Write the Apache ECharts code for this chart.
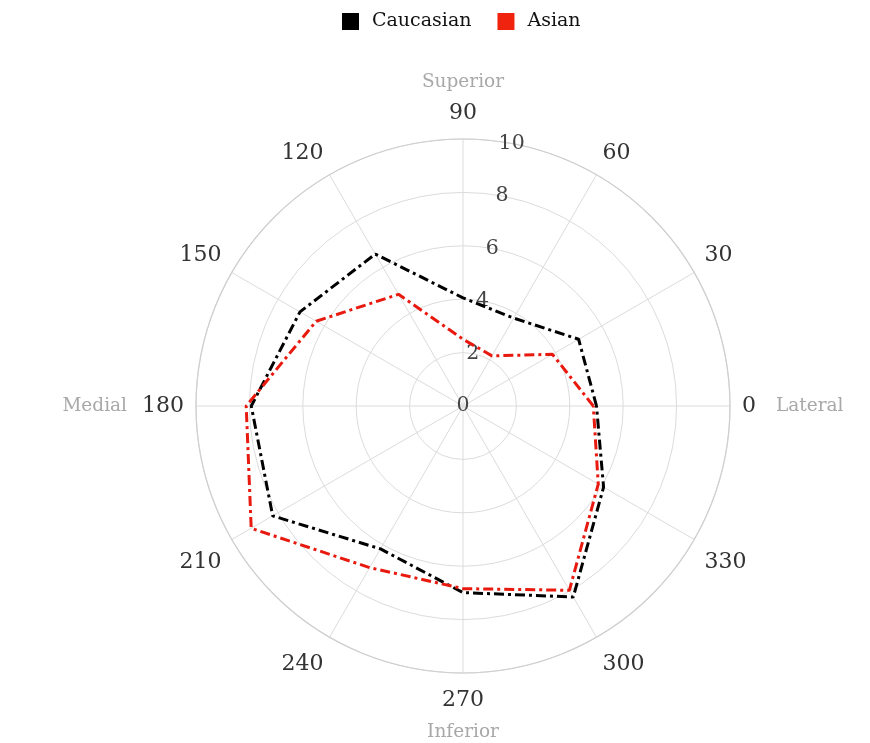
<!DOCTYPE html>
<html>
<head>
<meta charset="utf-8">
<script src="https://cdn.jsdelivr.net/npm/echarts@6/dist/echarts.min.js"></script>
<style>html,body{margin:0;padding:0;background:#fff}#c{width:870px;height:743px}</style>
</head>
<body>
<div id="c"></div>
<script>
// Data
const angles = [0, 30, 60, 90, 120, 150, 180, 210, 240, 270, 300, 330];
const caucasian = [5.0, 5.0, 3.8, 4.05, 6.57, 7.05, 7.93, 8.23, 6.18, 6.99, 8.26, 6.08];
const asian = [4.88, 3.87, 2.17, 2.5, 4.83, 6.35, 8.12, 9.16, 6.99, 6.84, 7.97, 5.85];
const radiusTicks = [0, 2, 4, 6, 8, 10];
const directionNames = { 0: 'Lateral', 90: 'Superior', 180: 'Medial', 270: 'Inferior' };
const seriesNames = ['Caucasian', 'Asian'];

const FONT = 'DejaVu Serif';
const CENTER = [463, 406];
const RADIUS = 267;

function closedLoop(vals) {
  const d = angles.map((a, i) => [vals[i], a]);
  d.push([vals[0], 360]);
  return d;
}

function angleLabel(v) {
  const a = Math.round(v) % 360;
  const dir = directionNames[a];
  if (!dir) return a > 180 ? '{nl|' + a + '}' : String(a);
  if (a === 90) return '{dt|' + dir + '}\n{nt|' + a + '}';
  if (a === 270) return '{nb|' + a + '}\n{db|' + dir + '}';
  if (a === 0) return '{n|' + a + '}{dl|' + dir + '}';
  return '{dr|' + dir + '}{n|' + a + '}';
}

const chart = echarts.init(document.getElementById('c'), null, { renderer: 'canvas' });
chart.setOption({
  backgroundColor: '#fff',
  animation: false,
  legend: {
    top: 7,
    left: 337,
    icon: 'rect',
    itemWidth: 17,
    itemHeight: 17,
    itemGap: 26,
    data: seriesNames,
    textStyle: { fontFamily: FONT, fontSize: 19, color: '#111', padding: [0, 0, 0, 8] }
  },
  polar: [
    { center: CENTER, radius: RADIUS },
    { center: CENTER, radius: RADIUS }
  ],
  angleAxis: [
    {
      polarIndex: 0,
      type: 'value',
      min: 0,
      max: 360,
      interval: 30,
      startAngle: 0,
      clockwise: false,
      axisLine: { show: true, lineStyle: { color: '#cfcfcf', width: 1.2 } },
      axisTick: { show: false },
      splitLine: { show: true, lineStyle: { color: '#dcdcdc', width: 1 } },
      axisLabel: {
        show: true,
        margin: 12,
        formatter: angleLabel,
        fontFamily: FONT,
        fontSize: 22,
        color: '#333',
        rich: {
          n: { fontFamily: FONT, fontSize: 22, color: '#333' },
          nl: { fontFamily: FONT, fontSize: 22, color: '#333', padding: [6, 0, 0, 0] },
          nt: { fontFamily: FONT, fontSize: 22, color: '#333', lineHeight: 28 },
          nb: { fontFamily: FONT, fontSize: 22, color: '#333', lineHeight: 30 },
          dt: { fontFamily: FONT, fontSize: 18.5, color: '#a8a8a8', lineHeight: 34 },
          db: { fontFamily: FONT, fontSize: 18.5, color: '#a8a8a8', lineHeight: 34 },
          dl: { fontFamily: FONT, fontSize: 18.5, color: '#a8a8a8', padding: [0, 0, 0, 20] },
          dr: { fontFamily: FONT, fontSize: 18.5, color: '#a8a8a8', padding: [0, 15, 0, 0] }
        }
      }
    },
    {
      polarIndex: 1,
      type: 'value',
      min: 0,
      max: 360,
      startAngle: 79.5,
      show: false
    }
  ],
  radiusAxis: [
    {
      polarIndex: 0,
      type: 'value',
      min: 0,
      max: 10,
      interval: 2,
      axisLine: { show: false },
      axisTick: { show: false },
      axisLabel: { show: false },
      splitLine: { show: true, lineStyle: { color: '#dcdcdc', width: 1 } }
    },
    {
      polarIndex: 1,
      type: 'value',
      min: 0,
      max: 10,
      interval: 2,
      axisLine: { show: false },
      axisTick: { show: false },
      splitLine: { show: false },
      axisLabel: {
        show: true,
        margin: 0,
        align: 'center',
        verticalAlign: 'middle',
        rotate: 0,
        fontFamily: FONT,
        fontSize: 20.5,
        color: '#444',
        formatter: v => radiusTicks.indexOf(v) >= 0 ? String(v) : ''
      }
    }
  ],
  series: [
    {
      name: seriesNames[0],
      type: 'line',
      coordinateSystem: 'polar',
      polarIndex: 0,
      data: closedLoop(caucasian),
      symbol: 'none',
      z: 3,
      itemStyle: { color: '#000' },
      lineStyle: { color: '#000', width: 3, type: [10, 4, 3, 4] }
    },
    {
      name: seriesNames[1],
      type: 'line',
      coordinateSystem: 'polar',
      polarIndex: 0,
      data: closedLoop(asian),
      symbol: 'none',
      z: 4,
      itemStyle: { color: '#f0240e' },
      lineStyle: { color: '#e8190e', width: 3, type: [10, 4, 3, 4] }
    }
  ]
});
</script>
</body>
</html>
